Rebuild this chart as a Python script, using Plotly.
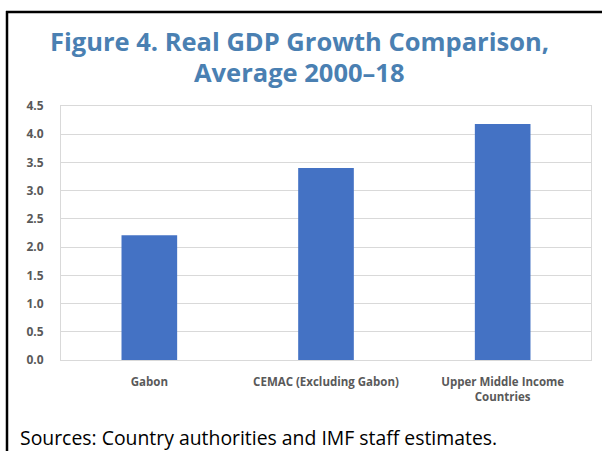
import plotly.graph_objects as go

categories = ["Gabon", "CEMAC (Excluding Gabon)", "Upper Middle Income<br>Countries"]
growth = [2.21, 3.40, 4.18]
y_ticks = [0, 0.5, 1.0, 1.5, 2.0, 2.5, 3.0, 3.5, 4.0, 4.5]
y_tick_labels = [f"{v:.1f}" for v in y_ticks]
title_lines = ["Figure 4. Real GDP Growth Comparison,", "Average 2000\u201318"]
source_note = "Sources: Country authorities and IMF staff estimates."

W, H = 602, 451
L, R, T, B = 61, 11, 106, 91

fig = go.Figure(
    go.Bar(
        x=categories,
        y=growth,
        marker=dict(color="#4472c4", line=dict(width=0)),
        width=0.315,
    )
)

fig.update_layout(
    width=W,
    height=H,
    margin=dict(l=L, r=R, t=T, b=B, pad=0),
    paper_bgcolor="white",
    plot_bgcolor="white",
    showlegend=False,
    font=dict(family="Open Sans, sans-serif"),
)

fig.update_xaxes(
    showline=True, mirror=True, linecolor="#d9d9d9", linewidth=1,
    showgrid=False, ticks="", ticklen=0, ticklabelstandoff=11,
    tickfont=dict(size=11.5, color="#595959", family="Open Sans, sans-serif", weight="bold"),
)
fig.update_yaxes(
    range=[0, 4.5],
    tickvals=y_ticks, ticktext=y_tick_labels,
    showline=True, mirror=True, linecolor="#d9d9d9", linewidth=1,
    showgrid=True, gridcolor="#d9d9d9", gridwidth=1,
    zeroline=False, ticks="", ticklabelstandoff=14,
    tickfont=dict(size=12, color="#595959", family="Open Sans, sans-serif", weight="bold"),
)

px = lambda x: (x - L) / (W - L - R)
py = lambda y: (H - B - y) / (H - T - B)

# Title block, one annotation per line
for line, yc in zip(title_lines, [40.5, 71.5]):
    fig.add_annotation(
        text=line, xref="paper", yref="paper",
        x=px(299), y=py(yc), xanchor="center", yanchor="middle", showarrow=False,
        font=dict(size=25.5, color="#4a80b2", family="Open Sans, sans-serif", weight="bold"),
    )

# Source note
fig.add_annotation(
    text=source_note, xref="paper", yref="paper",
    x=px(18), y=py(437), xanchor="left", yanchor="middle", showarrow=False,
    font=dict(size=19.4, color="#000000", family="Open Sans, sans-serif"),
)

# Frame lines (left and top rules)
fig.add_shape(type="line", xref="paper", yref="paper",
              x0=px(7), x1=px(7), y0=py(11), y1=py(451),
              line=dict(color="black", width=2.5))
fig.add_shape(type="line", xref="paper", yref="paper",
              x0=px(6), x1=px(602), y0=py(12), y1=py(12),
              line=dict(color="black", width=2.5))

fig.write_html("out.html")
